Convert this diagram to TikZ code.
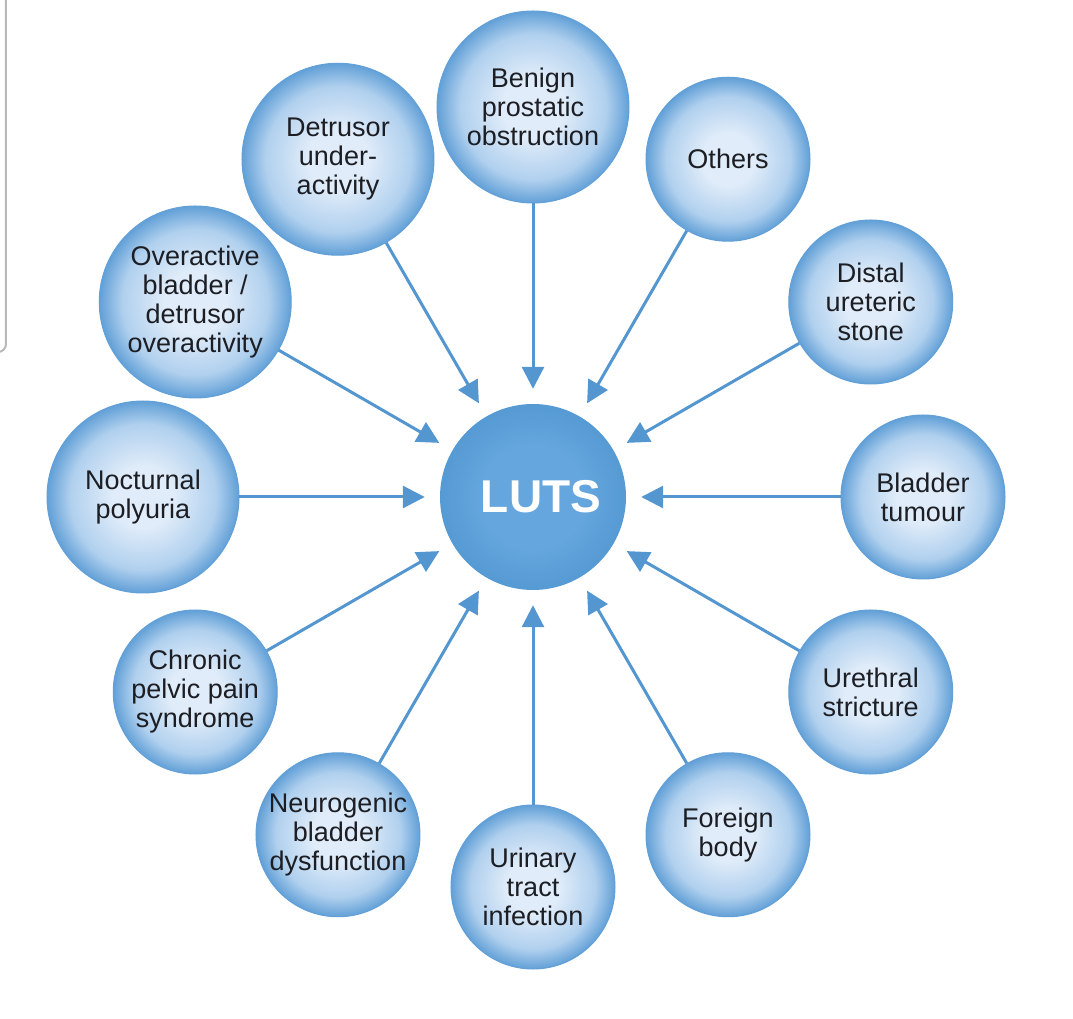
\documentclass[tikz,border=0pt]{standalone}
\usepackage{fontspec}
\setmainfont{Liberation Sans}
\usetikzlibrary{arrows.meta}
\definecolor{bubin}{RGB}{224,236,249}
\definecolor{bubmid}{RGB}{176,208,238}
\definecolor{bubout}{RGB}{98,160,215}
\definecolor{lutsin}{RGB}{100,166,221}
\definecolor{lutsout}{RGB}{86,154,212}
\definecolor{arrblue}{RGB}{84,150,208}
\definecolor{txt}{RGB}{28,30,36}
\pgfdeclareradialshading{bubble}{\pgfpoint{0bp}{0bp}}{color(0bp)=(bubin); color(8bp)=(bubin); color(19bp)=(bubmid); color(25bp)=(bubout); color(50bp)=(bubout)}
\pgfdeclareradialshading{lutsshade}{\pgfpoint{0bp}{0bp}}{color(0bp)=(lutsin); color(14bp)=(lutsin); color(25bp)=(lutsout); color(50bp)=(lutsout)}

\begin{document}
\begin{tikzpicture}[
  x=1pt, y=1pt,
  bubble/.style={circle, shading=bubble, draw=bubout, line width=1pt, align=center,
                 text=txt, font=\fontsize{27}{29}\selectfont, inner sep=0pt},
  big/.style={bubble, minimum size=192pt},
  small/.style={bubble, minimum size=164pt},
  arr/.style={-{Triangle[length=22pt,width=22pt]}, line width=3pt, draw=arrblue, shorten >=15pt}
]
\useasboundingbox (-533,-522) rectangle (540,497);
% screenshot edge
\draw[gray!55, line width=2pt, rounded corners=8pt] (-527,497) -- (-527,145) -- (-545,145);

\node[circle, shading=lutsshade, minimum size=186pt, inner sep=0pt, text=white,
      font=\fontsize{46}{50}\selectfont\bfseries] (luts) at (0,0) {\hspace*{16pt}LUTS};

\node[big]   (bpo)  at (90:390)   {Benign\\prostatic\\obstruction};
\node[small] (oth)  at (60:390)   {Others};
\node[small] (dus)  at (30:390)   {Distal\\ureteric\\stone};
\node[small] (btu)  at (0:390)    {Bladder\\tumour};
\node[small] (ust)  at (-30:390)  {Urethral\\stricture};
\node[small] (fbo)  at (-60:390)  {Foreign\\body};
\node[small] (uti)  at (-90:390)  {Urinary\\tract\\infection};
\node[small] (nbd)  at (-120:390) {Neurogenic\\bladder\\dysfunction};
\node[small] (cpps) at (-150:390) {Chronic\\pelvic pain\\syndrome};
\node[big]   (npo)  at (180:390)  {Nocturnal\\polyuria};
\node[big]   (oab)  at (150:390)  {Overactive\\bladder /\\detrusor\\overactivity};
\node[big]   (dua)  at (120:390)  {Detrusor\\under-\\activity};

\foreach \n in {bpo,oth,dus,btu,ust,fbo,uti,nbd,cpps,npo,oab,dua}
  \draw[arr] (\n) -- (luts);
\end{tikzpicture}
\end{document}
